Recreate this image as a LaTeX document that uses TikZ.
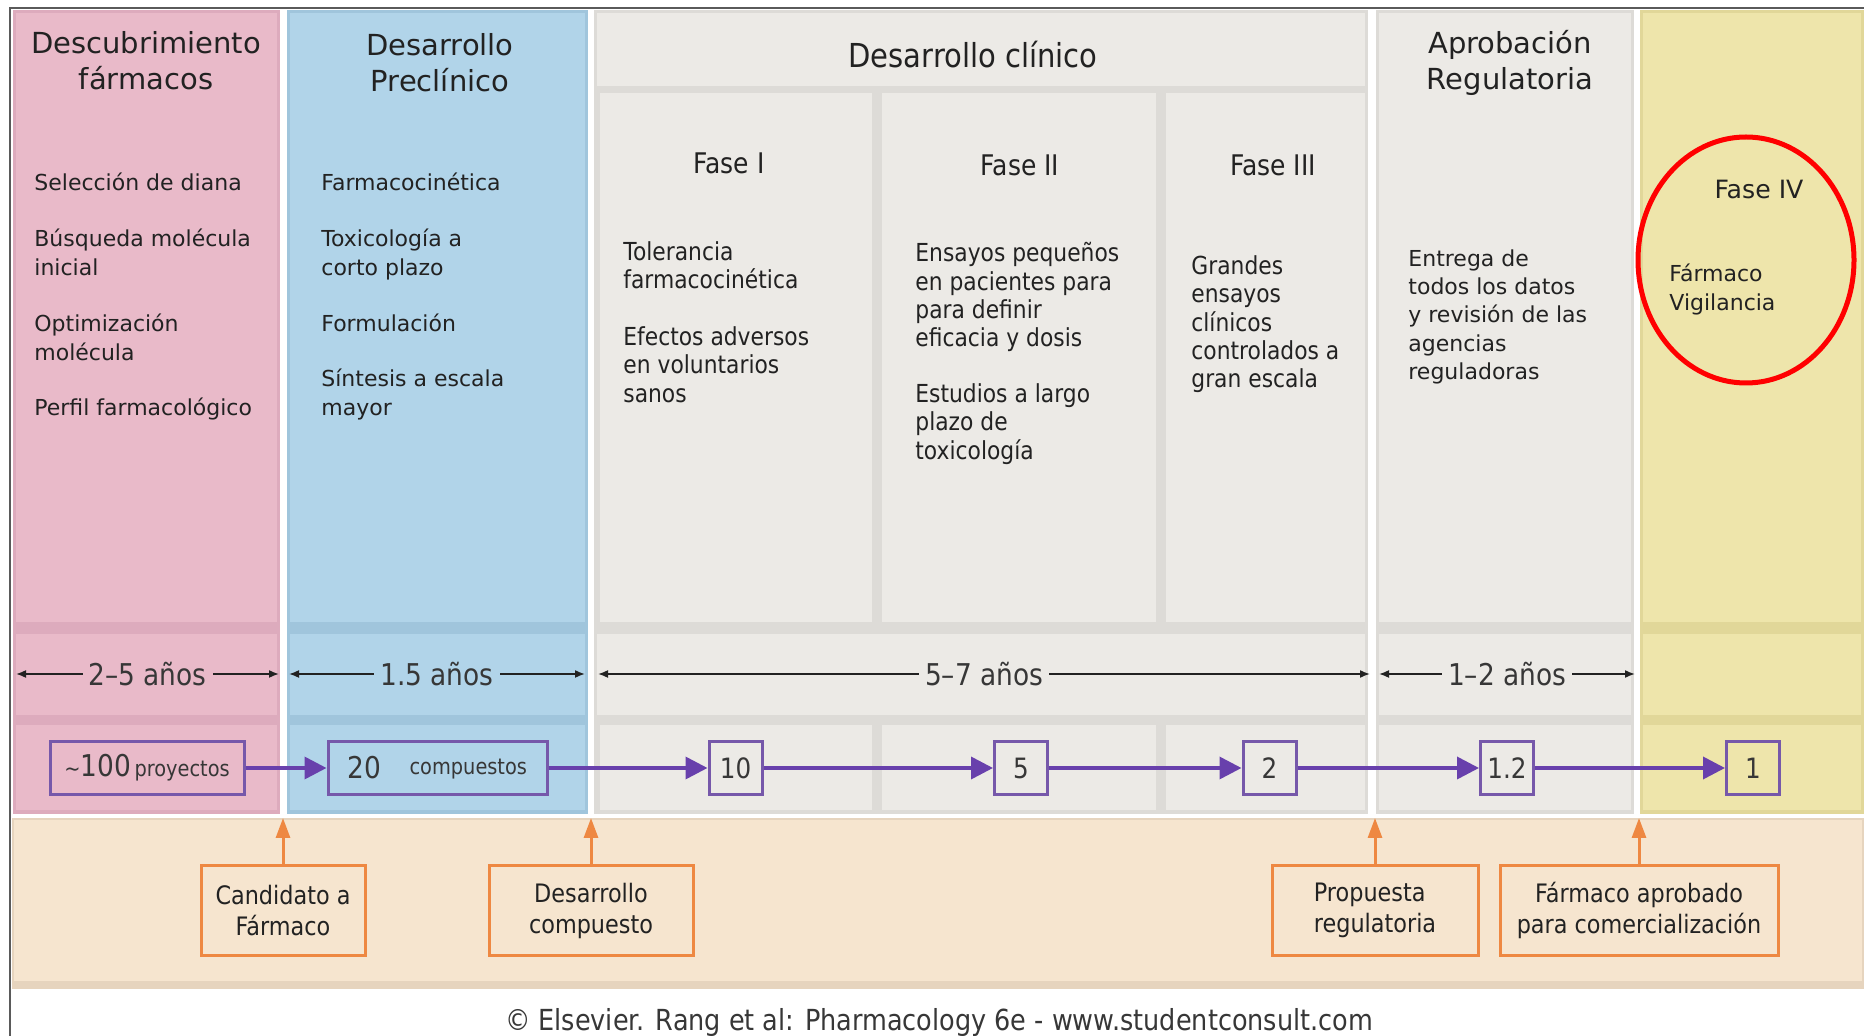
\documentclass[tikz,border=0pt]{standalone}
\usepackage{fontspec}
\setmainfont{DejaVu Sans}
\newfontfamily\condfont{DejaVu Sans}[FakeStretch=0.88]
\usetikzlibrary{arrows.meta,positioning}

\definecolor{pinkc}{RGB}{233,186,201}
\definecolor{pinkd}{RGB}{221,171,189}
\definecolor{bluec}{RGB}{177,212,233}
\definecolor{blued}{RGB}{160,197,220}
\definecolor{grayc}{RGB}{236,234,230}
\definecolor{grayd}{RGB}{221,219,215}
\definecolor{yelc}{RGB}{238,229,171}
\definecolor{yeld}{RGB}{225,215,153}
\definecolor{peachc}{RGB}{246,229,207}
\definecolor{peachd}{RGB}{230,212,190}
\definecolor{txtc}{RGB}{34,34,34}
\definecolor{yrtxt}{RGB}{55,55,55}
\definecolor{boxpur}{RGB}{118,88,170}
\definecolor{arrpur}{RGB}{104,64,172}
\definecolor{orgc}{RGB}{238,136,66}
\definecolor{framec}{RGB}{90,90,90}

\tikzset{
  title/.style={font=\fontsize{14.5}{18}\selectfont, align=center, inner sep=0pt},
  ctitle/.style={font=\condfont\fontsize{16.5}{19}\selectfont, inner sep=0pt},
  ftitle/.style={font=\condfont\fontsize{14.2}{17}\selectfont, inner sep=0pt},
  item/.style={font=\fontsize{11}{14.2}\selectfont, align=left, anchor=north west, inner sep=0pt},
  citem/.style={font=\condfont\fontsize{12.4}{14.2}\selectfont, align=left, anchor=north west, inner sep=0pt},
  yrarrow/.style={{Latex[length=5pt,width=4pt]}-{Latex[length=5pt,width=4pt]}, draw=txtc, line width=0.8pt},
  yrlabel/.style={fill=#1, text=yrtxt, inner xsep=3pt, inner ysep=1pt, font=\condfont\fontsize{15}{17}\selectfont},
  cnt/.style={draw=boxpur, line width=1.5pt, minimum height=26.5pt, minimum width=26.5pt, inner sep=2pt, text=yrtxt, font=\condfont\fontsize{14}{16}\selectfont},
  cntarrow/.style={-{Triangle[length=11pt,width=11pt]}, draw=arrpur, line width=1.8pt},
  mile/.style={draw=orgc, fill=peachc, line width=1.5pt, align=center, minimum height=44.5pt, font=\condfont\fontsize{12.7}{15.5}\selectfont},
  milearrow/.style={-{Triangle[length=10pt,width=7pt]}, draw=orgc, line width=1.5pt},
}

\begin{document}
\begin{tikzpicture}[x=0.5pt, y=-0.5pt, every node/.style={text=txtc}]
\useasboundingbox (0,0) rectangle (1864,1036);
\fill[white] (0,0) rectangle (1864,1036);

% columns: backing and three panels each
\foreach \xa/\xb/\cl/\dk in {16/277/pinkc/pinkd, 290/585/bluec/blued, 1379/1631/grayc/grayd, 1643/1861/yelc/yeld} {
  \fill[\dk] (\xa-3,10) rectangle (\xb+3,814);
  \fill[\cl] (\xa,13) rectangle (\xb,622);
  \fill[\cl] (\xa,634) rectangle (\xb,715);
  \fill[\cl] (\xa,725) rectangle (\xb,810);
}
% clinical column
\fill[grayd] (594,10) rectangle (1368,814);
\fill[grayc] (597,13) rectangle (1365,86);
\fill[grayc] (597,634) rectangle (1365,715);
\foreach \xa/\xb in {600/872, 882/1156, 1166/1365} {
  \fill[grayc] (\xa,93) rectangle (\xb,622);
  \fill[grayc] (\xa,725) rectangle (\xb,810);
}
% milestone band
\fill[peachd] (12,818) rectangle (1864,989);
\fill[peachc] (14,820) rectangle (1862,981);
% frame
\draw[framec, line width=1pt] (10,1036) -- (10,8) -- (1864,8);

% headers
\node[title] (tdesc) at (146,61) {Descubrimiento\\fármacos};
\node[title] (tpre) at (440,63) {Desarrollo\\Preclínico};
\node[ctitle] (tclin) at (973,55) {Desarrollo clínico};
\node[title] (tapr) at (1510,63) {Aprobación\\Regulatoria};
\node[ftitle] (tf1) at (729,163) {Fase I};
\node[ftitle] (tf2) at (1020,165) {Fase II};
\node[ftitle] (tf3) at (1273,165) {Fase III};
\node[font=\fontsize{12.6}{15}\selectfont, inner sep=0pt] (tf4) at (1759,190) {Fase IV};

% activities
\node[item] (d1) at (34,173) {Selección de diana};
\node[item] (d2) at (34,229) {Búsqueda molécula\\inicial};
\node[item] (d3) at (34,314) {Optimización\\molécula};
\node[item] (d4) at (34,398) {Perfil farmacológico};
\node[item] (p1) at (321,173) {Farmacocinética};
\node[item] (p2) at (321,229) {Toxicología a\\corto plazo};
\node[item] (p3) at (321,314) {Formulación};
\node[item] (p4) at (321,369) {Síntesis a escala\\mayor};
\node[citem] (f1a) at (623,241) {Tolerancia\\farmacocinética};
\node[citem] (f1b) at (623,326) {Efectos adversos\\en voluntarios\\sanos};
\node[citem] (f2a) at (915,242) {Ensayos pequeños\\en pacientes para\\para definir\\eficacia y dosis};
\node[citem] (f2b) at (915,383) {Estudios a largo\\plazo de\\toxicología};
\node[citem] (f3a) at (1191,255) {Grandes\\ensayos\\clínicos\\controlados a\\gran escala};
\node[item] (ra) at (1408,249) {Entrega de\\todos los datos\\y revisión de las\\agencias\\reguladoras};
\node[item] (f4a) at (1669,264) {Fármaco\\Vigilancia};
\draw[red, line width=2.5pt] (1746,260) ellipse [x radius=54pt, y radius=61.5pt];

% durations
\foreach \i/\xa/\xb/\cl/\txt in {1/16/279/pinkc/2–5 años, 2/289/585/bluec/1.5 años, 3/598/1370/grayc/5–7 años, 4/1379/1635/grayc/1–2 años} {
  \coordinate (ya\i) at (\xa,674);
  \coordinate (yb\i) at (\xb,674);
  \draw[yrarrow] (ya\i) -- node[yrlabel=\cl] (yl\i) {\txt} (yb\i);
}

% compounds
\node[cnt, fill=pinkc, minimum width=97pt] (c100) at (147,768) {{\fontsize{11}{11}\selectfont\textasciitilde}{\fontsize{15}{16}\selectfont 100}{\fontsize{11}{11}\selectfont\,proyectos}};
\node[cnt, fill=bluec, minimum width=109.5pt] (c20) at (437.5,768) {{\fontsize{15}{16}\selectfont 20}\quad\raisebox{2pt}{\fontsize{11}{11}\selectfont compuestos}};
\node[cnt, fill=grayc] (c10) at (735.5,768) {10};
\node[cnt, fill=grayc] (c5) at (1021,768) {5};
\node[cnt, fill=grayc] (c2) at (1269.5,768) {2};
\node[cnt, fill=grayc] (c12) at (1507,768) {1.2};
\node[cnt, fill=yelc] (c1) at (1753,768) {1};
\foreach \a/\b in {c100/c20, c20/c10, c10/c5, c5/c2, c2/c12, c12/c1}
  \draw[cntarrow] (\a) -- (\b);

% milestones
\coordinate (bandtop) at (0,818);
\node[mile, minimum width=82pt] (cand) at (283,910.5) {Candidato a\\Fármaco};
\node[mile, minimum width=102pt] (dcomp) at (591,910.5) {Desarrollo\\compuesto};
\node[mile, minimum width=103pt, align=left] (preg) at (1375,910.5) {Propuesta\\regulatoria};
\node[mile, minimum width=139pt] (fapr) at (1639,910.5) {Fármaco aprobado\\para comercialización};
\foreach \m in {cand, dcomp, preg, fapr}
  \draw[milearrow] (\m.north) -- (\m.north |- bandtop);

\node[font=\condfont\fontsize{14.5}{16}\selectfont, text=yrtxt] (copy) at (939,1022) {© Elsevier. Rang et al: Pharmacology 6e - www.studentconsult.com};
\end{tikzpicture}
\end{document}
